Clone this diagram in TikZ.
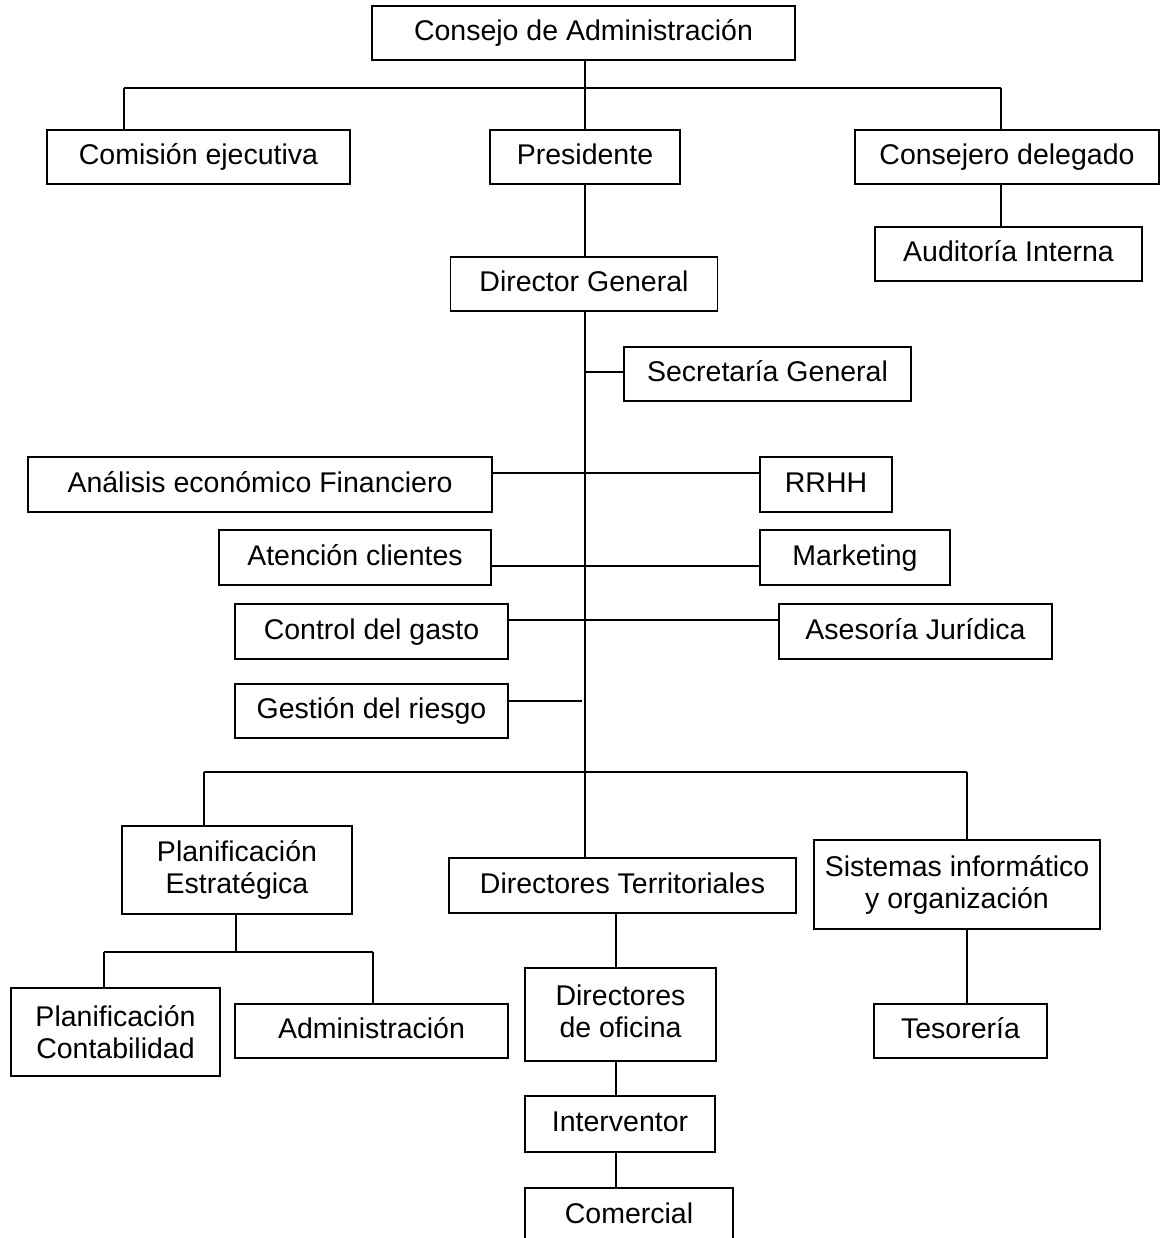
\documentclass[tikz,border=0pt]{standalone}
\usepackage{fontspec}
\setmainfont{Liberation Sans}
\begin{document}
\begin{tikzpicture}[x=1pt,y=-1pt,
  box/.style={draw, line width=1.4pt, inner sep=0pt, align=center,
    font=\fontsize{28.5}{32}\selectfont},
  one/.style={box, text height=21pt, text depth=6pt},
  conn/.style={line width=2pt},
  bus/.style={line width=2.6pt}]
\useasboundingbox (0,0) rectangle (1159,1238);
% boxes: center x, center y, width, height
\node[one, minimum width=423, minimum height=54] (consejo) at (583.5,33) {Consejo de Administración};
\node[one, minimum width=303, minimum height=54] (comision) at (198.5,157) {Comisión ejecutiva};
\node[one, minimum width=190, minimum height=54] (presidente) at (585,157) {Presidente};
\node[one, minimum width=304, minimum height=54] (consejero) at (1007,157) {Consejero delegado};
\node[one, minimum width=267, minimum height=54] (auditoria) at (1008.5,254) {Auditoría Interna};
\node[one, minimum width=267, minimum height=54] (dirgen) at (584,284) {Director General};
\node[one, minimum width=287, minimum height=54] (secretaria) at (767.5,374) {Secretaría General};
\node[one, minimum width=464, minimum height=55] (analisis) at (260,484.5) {Análisis económico Financiero};
\node[one, minimum width=132, minimum height=55] (rrhh) at (826,484.5) {RRHH};
\node[one, minimum width=272, minimum height=55] (atencion) at (355,557.5) {Atención clientes};
\node[one, minimum width=190, minimum height=55] (marketing) at (855,557.5) {Marketing};
\node[one, minimum width=273, minimum height=55] (control) at (371.5,631.5) {Control del gasto};
\node[one, minimum width=273, minimum height=55] (asesoria) at (915.5,631.5) {Asesoría Jurídica};
\node[one, minimum width=273, minimum height=54] (gestion) at (371.5,711) {Gestión del riesgo};
\node[box, minimum width=230, minimum height=88] (planest) at (237,870) {Planificación\\Estratégica};
\node[one, minimum width=347, minimum height=55] (dirterr) at (622.5,885.5) {Directores Territoriales};
\node[box, minimum width=286, minimum height=89] (sistemas) at (957,884.5) {Sistemas informático\\y organización};
\node[box, minimum width=209, minimum height=88] (plancont) at (115.5,1032) {Planificación\\Contabilidad};
\node[one, minimum width=273, minimum height=54] (admin) at (371.5,1031) {Administración};
\node[box, minimum width=191, minimum height=93] (diroficina) at (620.5,1014.5) {Directores\\de oficina\vphantom{g}};
\node[one, minimum width=190, minimum height=56] (interventor) at (620,1124) {Interventor};
\node[one, minimum width=208, minimum height=56] (comercial) at (629,1216) {Comercial};
\node[one, minimum width=173, minimum height=54] (tesoreria) at (960.5,1031) {Tesorería};
% junction coordinates
\coordinate (b1) at (585,88);
\coordinate (b1L) at (124,88);
\coordinate (b1R) at (1001,88);
\coordinate (s1) at (585,372);
\coordinate (s2) at (585,473);
\coordinate (s3) at (585,566);
\coordinate (s4) at (585,620);
\coordinate (s5) at (582,701);
\coordinate (b2L) at (204,772);
\coordinate (b2R) at (967,772);
\coordinate (b3L) at (104,952);
\coordinate (b3R) at (373,952);
\coordinate (b3M) at (236,952);
\coordinate (t) at (616,900);
% connectors
\draw[conn] (consejo.south -| b1) -- (b1);
\draw[bus] (b1L) -- (b1R);
\draw[conn] (b1L) -- (b1L |- comision.north);
\draw[conn] (b1) -- (presidente.north);
\draw[conn] (b1R) -- (b1R |- consejero.north);
\draw[conn] (consejero.south -| b1R) -- (auditoria.north -| b1R);
\draw[conn] (presidente.south) -- (dirgen.north -| presidente.south);
\draw[conn] (dirgen.south -| b1) -- (dirterr.north -| b1);
\draw[conn] (s1) -- (secretaria.west |- s1);
\draw[conn] (analisis.east |- s2) -- (rrhh.west |- s2);
\draw[conn] (atencion.east |- s3) -- (marketing.west |- s3);
\draw[conn] (control.east |- s4) -- (asesoria.west |- s4);
\draw[conn] (gestion.east |- s5) -- (s5);
\draw[bus] (b2L) -- (b2R);
\draw[conn] (b2L) -- (b2L |- planest.north);
\draw[conn] (b2R) -- (b2R |- sistemas.north);
\draw[conn] (planest.south -| b3M) -- (b3M);
\draw[bus] (b3L) -- (b3R);
\draw[conn] (b3L) -- (b3L |- plancont.north);
\draw[conn] (b3R) -- (b3R |- admin.north);
\draw[conn] (dirterr.south -| t) -- (diroficina.north -| t);
\draw[conn] (diroficina.south -| t) -- (interventor.north -| t);
\draw[conn] (interventor.south -| t) -- (comercial.north -| t);
\draw[conn] (sistemas.south -| b2R) -- (tesoreria.north -| b2R);
\end{tikzpicture}
\end{document}
